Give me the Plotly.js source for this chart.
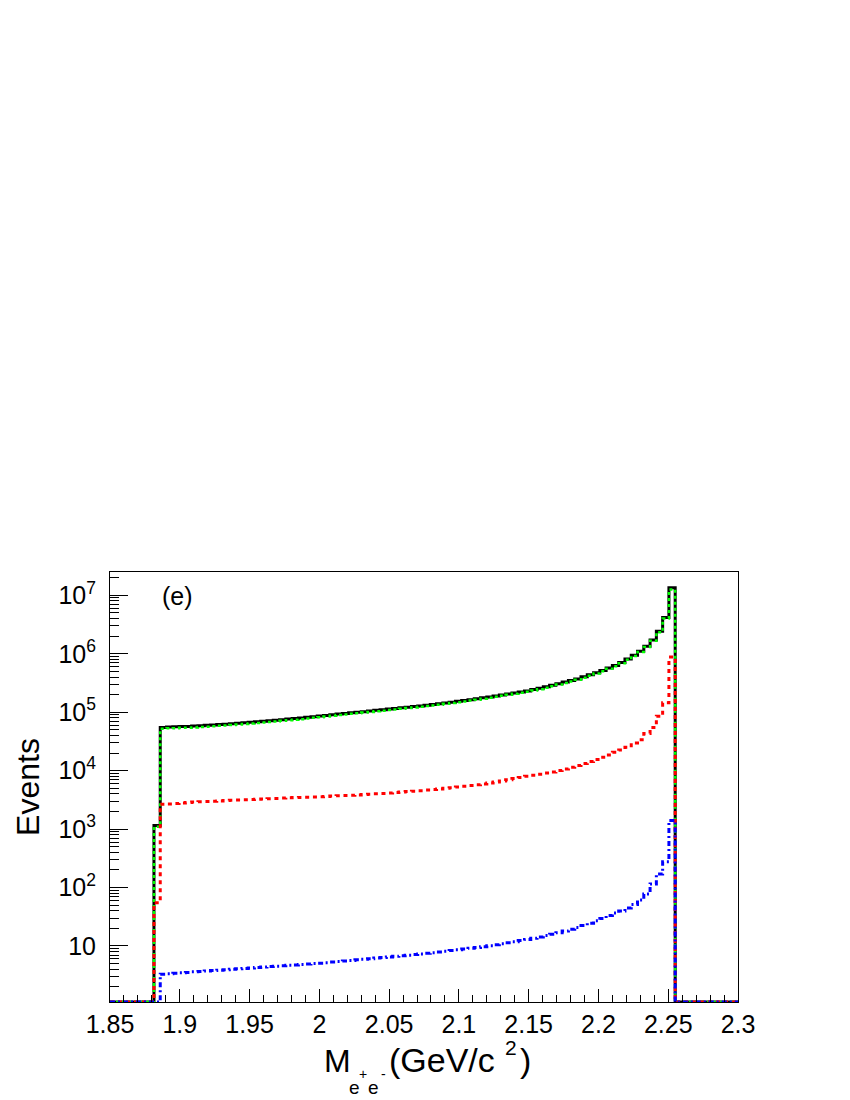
<!DOCTYPE html>
<html>
<head>
<meta charset="utf-8">
<script src="https://cdn.plot.ly/plotly-3.0.1.min.js"></script>
<style>html,body{margin:0;padding:0;background:#fff}</style>
</head>
<body>
<div id="chart" style="width:850px;height:1100px"></div>
<script>
// Histogram binning: 100 bins from 1.85 to 2.3 GeV/c^2
const binLow = 1.85;
const binWidth = 0.0045;
const nBins = 100;

// Total (black solid)
const totalCounts = [0,0,0,0,0,0,0,1150,
  54950,55590,56200,56800,57100,57900,58900,59600,60300,61400,
  62400,63400,64600,65900,67300,68500,70000,71400,72900,74500,
  76200,77800,79400,81700,83700,85900,88100,90400,92900,95300,
  97700,100000,102300,105000,107600,110200,113000,115900,118900,121900,
  125000,128200,131800,135500,139600,143900,148600,153500,158500,164100,
  169800,176200,182800,189700,197200,205100,213800,222300,231700,243800,
  257000,272300,288400,306900,327300,348300,371500,402700,436500,475300,
  518800,571500,631000,708000,813000,944000,1109000,1349000,1718000,2427000,
  4169000,13490000,
  0,0,0,0,0,0,0,0,0,0];

// Green dotted
const greenCounts = [0,0,0,0,0,0,0,1095,
  52300,52900,53400,54000,54300,55000,56000,56600,57300,58400,
  59300,60300,61500,62700,64100,65300,66700,68100,69500,71100,
  72800,74300,75900,78200,80100,82300,84500,86700,89200,91500,
  93900,96200,98400,101000,103600,106100,108900,111700,114600,117500,
  120500,123600,127200,130700,134700,138900,143500,148200,153100,158500,
  164100,170300,176700,183300,190500,198100,206500,214600,223700,235500,
  248300,263200,278900,296800,316600,336800,359200,389500,422200,459800,
  501800,552900,610400,685400,787900,914200,1075000,1306000,1663000,2342000,
  4025000,12610000,
  0,0,0,0,0,0,0,0,0,0];

// Red dashed
const redCounts = [0,0,0,0,0,0,0,55,
  2650,2700,2750,2800,2850,2900,2940,2970,3010,3040,
  3080,3110,3140,3170,3200,3240,3270,3310,3350,3390,
  3430,3460,3490,3520,3550,3590,3630,3670,3720,3760,
  3800,3850,3890,3950,4010,4070,4140,4220,4300,4380,
  4460,4550,4650,4750,4860,4980,5110,5250,5400,5560,
  5730,5920,6120,6380,6670,6980,7310,7660,8000,8340,
  8710,9100,9510,10070,10720,11480,12300,13240,14290,15490,
  16980,18620,20650,22650,25120,29850,33880,43150,54950,85110,
  144500,879000,
  0,0,0,0,0,0,0,0,0,0];

// Blue dash-dotted
const blueCounts = [0,0,0,0,0,0,0,0,
  3.3,3.35,3.4,3.47,3.53,3.61,3.67,3.74,3.8,3.86,
  3.93,3.99,4.06,4.12,4.2,4.28,4.36,4.44,4.52,4.59,
  4.67,4.74,4.82,4.91,5.0,5.09,5.19,5.3,5.41,5.53,
  5.66,5.79,5.93,6.07,6.21,6.35,6.5,6.65,6.81,6.97,
  7.13,7.31,7.5,7.69,7.91,8.13,8.36,8.59,8.85,9.12,
  9.42,9.73,10.07,10.5,10.9,11.4,11.8,12.4,12.9,13.6,
  14.3,15.1,15.9,16.9,18.0,19.3,20.8,22.5,24.5,26.9,
  29.6,33.1,36.7,39.8,44.7,51.3,61.0,77.6,115,170,
  275,1410,
  0,0,0,0,0,0,0,0,0,0];

// Axis ticks
const xTickVals = [1.85,1.9,1.95,2,2.05,2.1,2.15,2.2,2.25,2.3];
const xTickText = ['1.85','1.9','1.95','2','2.05','2.1','2.15','2.2','2.25','2.3'];
const yTickVals = [10,100,1e3,1e4,1e5,1e6,1e7];
const yTickText = ['10','10<sup>2</sup>','10<sup>3</sup>','10<sup>4</sup>','10<sup>5</sup>','10<sup>6</sup>','10<sup>7</sup>'];

const yRangeLog = [0.0417, 7.399];
const yFloor = Math.pow(10, yRangeLog[0]);

const yMinor = [];
for (let d = 0; d <= 7; d++) {
  for (let m = 2; m <= 9; m++) {
    const v = m * Math.pow(10, d);
    if (Math.log10(v) < yRangeLog[1]) yMinor.push(v);
  }
}

function histTrace(counts, color, width, dash) {
  const x = [], y = [];
  for (let i = 0; i < nBins; i++) {
    x.push(binLow + i * binWidth);
    y.push(counts[i] > 0 ? counts[i] : yFloor);
  }
  x.push(binLow + nBins * binWidth);
  y.push(counts[nBins - 1] > 0 ? counts[nBins - 1] : yFloor);
  return {
    x: x, y: y, type: 'scatter', mode: 'lines',
    line: {shape: 'hv', color: color, width: width, dash: dash},
    hoverinfo: 'skip', showlegend: false
  };
}

const traces = [
  histTrace(totalCounts, '#000000', 3, 'solid'),
  histTrace(greenCounts, '#00ff00', 2.5, '3px,3px'),
  histTrace(redCounts, '#ff0000', 3, '4px,4px'),
  histTrace(blueCounts, '#0000ff', 3, '5px,3px,2px,3px')
];

const fontFam = '"Liberation Sans", Arial, Helvetica, sans-serif';

// plot area in pixels: left 110, right 738, top 572, bottom 1002
const px = v => (v - 110) / 628;
const py = v => (1002 - v) / 430;

function txt(text, x, y, size, xanchor) {
  return {
    text: text, xref: 'paper', yref: 'paper', x: px(x), y: py(y),
    xanchor: xanchor || 'center', yanchor: 'middle', showarrow: false,
    font: {family: fontFam, size: size, color: '#000'}
  };
}

const layout = {
  width: 850, height: 1100,
  margin: {l: 110, r: 112, t: 572, b: 98, pad: 0},
  paper_bgcolor: '#ffffff', plot_bgcolor: '#ffffff',
  font: {family: fontFam, color: '#000', size: 25},
  showlegend: false,
  xaxis: {
    range: [1.85, 2.3],
    tickmode: 'array', tickvals: xTickVals, ticktext: xTickText,
    ticks: 'inside', ticklen: 13, tickwidth: 1, tickcolor: '#000',
    minor: {dtick: 0.01, tick0: 1.85, ticks: 'inside', ticklen: 7, tickwidth: 1, tickcolor: '#000'},
    showline: true, mirror: true, linecolor: '#000', linewidth: 1,
    showgrid: false, zeroline: false,
    tickfont: {family: fontFam, size: 25, color: '#000'},
    ticklabelstandoff: 0
  },
  yaxis: {
    type: 'log', range: yRangeLog,
    tickmode: 'array', tickvals: yTickVals, ticktext: yTickText,
    ticks: 'inside', ticklen: 18, tickwidth: 1, tickcolor: '#000',
    minor: {tickmode: 'array', tickvals: yMinor, ticks: 'inside', ticklen: 9, tickwidth: 1, tickcolor: '#000'},
    showline: true, mirror: true, linecolor: '#000', linewidth: 1,
    showgrid: false, zeroline: false,
    tickfont: {family: fontFam, size: 25, color: '#000'},
    ticklabelstandoff: 8,
    title: {text: 'Events', font: {family: fontFam, size: 32, color: '#000'}, standoff: 9}
  },
  annotations: [
    txt('(e)', 177, 596, 25),
    // x-axis title: M_{e^{+}e^{-}} (GeV/c^{2})
    txt('M', 337, 1061, 32),
    txt('e', 354, 1087, 19),
    txt('+', 363, 1074, 14),
    txt('e', 373, 1087, 19),
    txt('-', 383, 1074, 14),
    txt('(GeV/c', 387, 1060, 34, 'left'),
    txt('2', 511, 1047, 21),
    txt(')', 518, 1060, 34, 'left')
  ]
};

Plotly.newPlot('chart', traces, layout, {displayModeBar: false, staticPlot: true});
</script>
</body>
</html>
